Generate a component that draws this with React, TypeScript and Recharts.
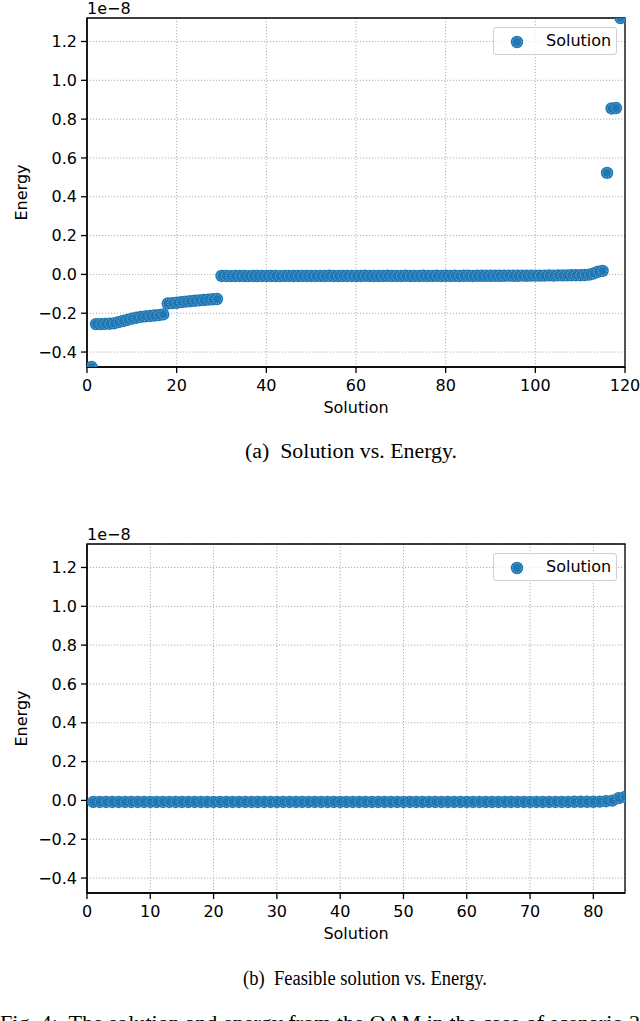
import React from 'react';
import {
  ScatterChart,
  Scatter,
  XAxis,
  YAxis,
  CartesianGrid,
  Legend,
  ReferenceArea,
  Label,
} from 'recharts';

// Energy values (units of 1e-8), one per solution index starting at 1
const energyAll = [
  -0.477,
  -0.256, -0.256, -0.255, -0.254, -0.252,
  -0.246, -0.240, -0.234, -0.228, -0.223, -0.219, -0.216, -0.214, -0.212, -0.210, -0.206,
  -0.150, -0.148, -0.146, -0.143, -0.140, -0.138, -0.136, -0.134, -0.132, -0.130, -0.128, -0.127,
  -0.008, -0.008, -0.009, -0.008, -0.008, -0.008, -0.009, -0.008, -0.008, -0.008,
  -0.008, -0.008, -0.008, -0.009, -0.008, -0.008, -0.008, -0.008, -0.008, -0.008,
  -0.008, -0.008, -0.008, -0.008, -0.007, -0.008, -0.008, -0.008, -0.008, -0.008,
  -0.008, -0.008, -0.007, -0.008, -0.008, -0.008, -0.008, -0.007, -0.008, -0.008,
  -0.008, -0.007, -0.008, -0.008, -0.008, -0.007, -0.008, -0.008, -0.007, -0.008,
  -0.007, -0.008, -0.007, -0.008, -0.007, -0.007, -0.008, -0.007, -0.007, -0.007,
  -0.007, -0.007, -0.007, -0.007, -0.006, -0.007, -0.007, -0.006, -0.007, -0.006,
  -0.006, -0.006, -0.006, -0.005, -0.006, -0.005, -0.005, -0.005, -0.004, -0.004,
  -0.004, -0.003, -0.001,
  0.005, 0.014, 0.018,
  0.523,
  0.855, 0.857,
  1.321,
];

const energyFeasible = [
  -0.008, -0.008, -0.008, -0.008, -0.008, -0.008, -0.008, -0.008, -0.008, -0.008,
  -0.008, -0.008, -0.008, -0.008, -0.008, -0.008, -0.008, -0.008, -0.008, -0.008,
  -0.008, -0.008, -0.008, -0.008, -0.008, -0.008, -0.008, -0.008, -0.008, -0.008,
  -0.008, -0.008, -0.008, -0.008, -0.008, -0.008, -0.008, -0.008, -0.008, -0.008,
  -0.008, -0.008, -0.008, -0.008, -0.008, -0.008, -0.008, -0.008, -0.008, -0.008,
  -0.008, -0.008, -0.008, -0.008, -0.008, -0.008, -0.008, -0.008, -0.008, -0.008,
  -0.008, -0.008, -0.008, -0.008, -0.008, -0.008, -0.008, -0.008, -0.008, -0.008,
  -0.008, -0.008, -0.008, -0.008, -0.008, -0.008, -0.007, -0.007, -0.007, -0.007,
  -0.006, -0.004, -0.001, 0.012, 0.018,
];

const xTicksAll = [0, 20, 40, 60, 80, 100, 120];
const xTicksFeasible = [0, 10, 20, 30, 40, 50, 60, 70, 80];
const xDomainAll: [number, number] = [0, 120];
const xDomainFeasible: [number, number] = [0, 85];
const yTicks = [-0.4, -0.2, 0, 0.2, 0.4, 0.6, 0.8, 1.0, 1.2];
const yDomain: [number, number] = [-0.477, 1.321];

const seriesName = 'Solution';
const xLabel = 'Solution';
const yLabel = 'Energy';
const offsetText = '1e\u22128';
const captionA = '(a)  Solution vs. Energy.';
const captionB = '(b)  Feasible solution vs. Energy.';
const figCaption = 'Fig. 4:  The solution and energy from the QAM in the case of scenario 2';

const BLUE = '#1f77b4';
const SANS = "'DejaVu Sans', sans-serif";
const SERIF = "'Liberation Serif', 'Times New Roman', serif";
const FS = 16;

const fmtY = (v: number) => (v < 0 ? '\u2212' : '') + Math.abs(v).toFixed(1);

const Marker = (props: any) => {
  const { cx, cy } = props;
  if (cx == null || cy == null) return null;
  return (
    <g>
      <circle cx={cx} cy={cy} r={6.2} fill={BLUE} />
      <circle
        cx={cx}
        cy={cy}
        r={4.4}
        fill="none"
        stroke="#ffffff"
        strokeOpacity={0.6}
        strokeWidth={0.8}
        strokeDasharray="1 1.3"
      />
    </g>
  );
};

const LegendBox = () => (
  <div
    style={{
      boxSizing: 'border-box',
      width: 124,
      height: 28,
      border: '1px solid #d0d0d0',
      borderRadius: 3,
      background: 'rgba(255,255,255,0.8)',
      position: 'relative',
    }}
  >
    <svg width={40} height={28} style={{ position: 'absolute', left: 0, top: 0 }}>
      <Marker cx={23} cy={14} />
    </svg>
    <span
      style={{
        position: 'absolute',
        left: 52,
        top: 3,
        fontFamily: SANS,
        fontSize: FS,
        lineHeight: '20px',
        color: '#000',
        whiteSpace: 'nowrap',
      }}
    >
      {seriesName}
    </span>
  </div>
);

function Panel({
  top,
  values,
  xDomain,
  xTicks,
}: {
  top: number;
  values: number[];
  xDomain: [number, number];
  xTicks: number[];
}) {
  const data = values.map((e, i) => ({ solution: i + 1, energy: e }));
  const tickStyle = { fill: '#000', fontSize: FS, fontFamily: SANS };
  const lineStyle = { stroke: '#000', strokeWidth: 1.3 };
  return (
    <div style={{ position: 'absolute', left: 0, top, width: 640, height: 420 }}>
      <ScatterChart width={640} height={420} margin={{ top: 18, right: 15, bottom: 0, left: 0 }}>
        <CartesianGrid stroke="#b0b0b0" strokeDasharray="1.2 1.8" strokeWidth={1} />
        <XAxis
          type="number"
          dataKey="solution"
          domain={xDomain}
          ticks={xTicks}
          interval={0}
          allowDataOverflow
          height={53}
          tickSize={6}
          tickMargin={7}
          tick={tickStyle}
          axisLine={lineStyle}
          tickLine={lineStyle}
        >
          <Label
            value={xLabel}
            position="insideBottom"
            offset={7}
            fill="#000"
            fontSize={FS}
            fontFamily={SANS}
          />
        </XAxis>
        <YAxis
          type="number"
          dataKey="energy"
          domain={yDomain}
          ticks={yTicks}
          interval={0}
          allowDataOverflow
          width={87}
          tickSize={6}
          tickMargin={4}
          tick={tickStyle}
          axisLine={lineStyle}
          tickLine={lineStyle}
          tickFormatter={fmtY}
        >
          <Label
            content={(p: any) => {
              const vb = p.viewBox || {};
              const yc = vb.y + vb.height / 2;
              const x = 27;
              return (
                <text
                  x={x}
                  y={yc}
                  transform={`rotate(-90, ${x}, ${yc})`}
                  textAnchor="middle"
                  fill="#000"
                  fontSize={FS}
                  fontFamily={SANS}
                >
                  {yLabel}
                </text>
              );
            }}
          />
          <Label
            content={(p: any) => {
              const vb = p.viewBox || {};
              return (
                <text
                  x={vb.x + vb.width}
                  y={vb.y - 4}
                  textAnchor="start"
                  fill="#000"
                  fontSize={FS}
                  fontFamily={SANS}
                >
                  {offsetText}
                </text>
              );
            }}
          />
        </YAxis>
        <Scatter
          name={seriesName}
          data={data}
          fill={BLUE}
          shape={Marker}
          isAnimationActive={false}
        />
        <ReferenceArea
          x1={xDomain[0]}
          x2={xDomain[1]}
          y1={yDomain[0]}
          y2={yDomain[1]}
          fill="none"
          fillOpacity={0}
          stroke="#000"
          strokeWidth={1.3}
          ifOverflow="visible"
        />
        <Legend
          layout="vertical"
          align="center"
          verticalAlign="middle"
          content={() => <LegendBox />}
          wrapperStyle={{ position: 'absolute', left: 493, top: 27, width: 124, height: 28 }}
        />
      </ScatterChart>
    </div>
  );
}

export default function App() {
  return (
    <div
      style={{
        position: 'absolute',
        left: 0,
        top: 0,
        width: 640,
        height: 1021,
        overflow: 'hidden',
        background: '#fff',
      }}
    >
      <Panel top={0} values={energyAll} xDomain={xDomainAll} xTicks={xTicksAll} />
      <Panel top={526} values={energyFeasible} xDomain={xDomainFeasible} xTicks={xTicksFeasible} />
      <svg
        width={640}
        height={1040}
        style={{ position: 'absolute', left: 0, top: 0, pointerEvents: 'none' }}
      >
        <text
          x={245}
          y={458}
          fontFamily={SERIF}
          fontSize={20}
          fill="#000"
          textLength={212}
          lengthAdjust="spacingAndGlyphs"
          style={{ whiteSpace: 'pre' }}
        >
          {captionA}
        </text>
        <text
          x={243}
          y={985}
          fontFamily={SERIF}
          fontSize={20}
          fill="#000"
          textLength={244}
          lengthAdjust="spacingAndGlyphs"
          style={{ whiteSpace: 'pre' }}
        >
          {captionB}
        </text>
        <text
          x={0}
          y={1030}
          fontFamily={SERIF}
          fontSize={20}
          fill="#000"
          textLength={640}
          lengthAdjust="spacingAndGlyphs"
          style={{ whiteSpace: 'pre' }}
        >
          {figCaption}
        </text>
      </svg>
    </div>
  );
}
